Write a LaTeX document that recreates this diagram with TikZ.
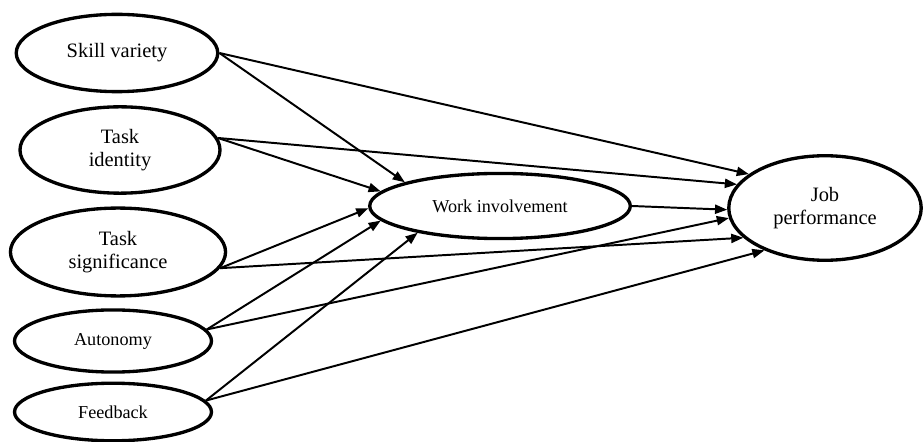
\documentclass[tikz,border=0pt]{standalone}
\usepackage{fontspec}
\setmainfont{Liberation Serif}
\usetikzlibrary{positioning,arrows.meta,shapes.geometric}
\tikzset{
  oval/.style={ellipse, draw=black, line width=2.2pt, inner sep=0pt, align=center},
  bigoval/.style={oval, font=\fontsize{13.5}{15.5}\selectfont},
  smalloval/.style={oval, font=\fontsize{12}{14}\selectfont},
  arr/.style={-{Triangle[length=8pt,width=6pt]}, line width=1.3pt},
}
\begin{document}
\begin{tikzpicture}[x=0.66pt, y=-0.66pt]
    \useasboundingbox (0,0) rectangle (924,442);
    % job characteristics
    \node[bigoval, minimum width=133pt, minimum height=51pt] (sv) at (117,53) {Skill variety};
    \node[bigoval, minimum width=132pt, minimum height=57pt] (ti) at (120,150) {Task\\identity};
    \node[bigoval, minimum width=142pt, minimum height=58pt] (ts) at (118,252) {Task\\significance};
    \node[smalloval, minimum width=130pt, minimum height=41pt] (au) at (113,341) {Autonomy};
    \node[smalloval, minimum width=130pt, minimum height=38pt] (fb) at (113,412) {Feedback};
    % mediator and outcome
    \node[smalloval, minimum width=172pt, minimum height=43pt] (wi) at (500,206) {Work involvement};
    \node[bigoval, minimum width=127pt, minimum height=69pt] (jp) at (825,208) {Job\\performance};
    % paths to work involvement
    \draw[arr] (sv.east) -- (wi.166);
    \draw[arr] (ti.7) -- (wi.173);
    \draw[arr] (ts.-9) -- (wi.181);
    \draw[arr] (au.7) -- (wi.187);
    \draw[arr] (fb.7) -- (wi.198);
    % paths to job performance
    \draw[arr] (sv.east) -- (jp.156);
    \draw[arr] (ti.7) -- (jp.165);
    \draw[arr] (wi.east) -- (jp.181);
    \draw[arr] (au.7) -- (jp.186);
    \draw[arr] (ts.-9) -- (jp.200);
    \draw[arr] (fb.7) -- (jp.215);
\end{tikzpicture}
\end{document}
